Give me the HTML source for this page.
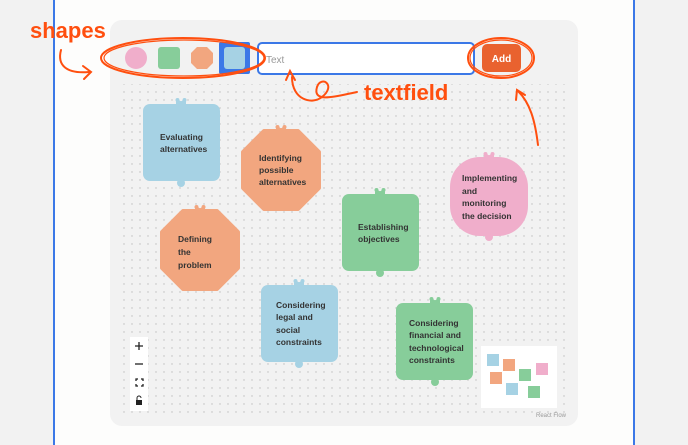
<!DOCTYPE html>
<html><head><meta charset="utf-8"><style>
html,body{margin:0;padding:0;width:688px;height:445px;overflow:hidden;background:#fdfdfc}
svg{display:block}
text{font-family:"Liberation Sans",sans-serif}
</style></head><body>
<svg width="688" height="445" viewBox="0 0 688 445" xmlns="http://www.w3.org/2000/svg">
<defs>
<pattern id="dots" width="8" height="8" patternUnits="userSpaceOnUse"><circle cx="4" cy="4" r="0.7" fill="#bdbdbd"/></pattern>
<g id="ear"><rect x="-5" y="-2" width="10" height="6" rx="2"/><circle cx="-3.5" cy="-2" r="2"/><circle cx="3.5" cy="-2" r="2"/><circle cx="0" cy="-2.5" r="1.6" fill="#f2f2f2"/></g>
</defs>
<rect x="0" y="0" width="53" height="445" fill="#f2f2f2"/>
<rect x="635" y="0" width="53" height="445" fill="#f2f2f2"/>
<rect x="53" y="0" width="2" height="445" fill="#3b78e7"/>
<rect x="633" y="0" width="2" height="445" fill="#3b78e7"/>
<rect x="110" y="20" width="468" height="406" rx="12" fill="#f2f2f2"/>
<rect x="122" y="84" width="446" height="334" fill="url(#dots)"/>

<!-- toolbar -->
<circle cx="136" cy="58" r="11" fill="#f0aecb"/>
<rect x="158" y="47" width="22" height="22" rx="3" fill="#87cd9a"/>
<polygon points="197,47 207,47 213,53 213,63 207,69 197,69 191,63 191,53" fill="#f2a67f"/>
<rect x="219" y="42" width="31" height="32" rx="2" fill="#3b78e7"/>
<rect x="224" y="47" width="21" height="22" rx="3" fill="#a6d2e4"/>
<rect x="258" y="43" width="216" height="31" rx="4" fill="#fff" stroke="#3b78e7" stroke-width="2"/>
<text x="266" y="63" font-size="10" fill="#999">Text</text>
<rect x="482" y="44" width="39" height="28" rx="5" fill="#e9622f"/>
<text x="501.5" y="62" font-size="10" fill="#fff" text-anchor="middle" font-weight="bold">Add</text>

<!-- nodes -->
<g font-size="8.5" font-weight="bold" fill="#333">
<use href="#ear" x="181" y="102" fill="#a6d2e4"/>
<rect x="143" y="104" width="77" height="77" rx="7" fill="#a6d2e4"/>
<circle cx="181" cy="183" r="4" fill="#a6d2e4"/>
<text x="160" y="140">Evaluating</text><text x="160" y="152">alternatives</text>

<use href="#ear" x="281" y="129" fill="#f2a67f"/>
<circle cx="281" cy="207" r="4" fill="#f2a67f"/>
<polygon points="264,131 298,131 319,152 319,188 298,209 264,209 243,188 243,152" fill="#f2a67f" stroke="#f2a67f" stroke-width="4" stroke-linejoin="round"/>
<text x="259" y="161">Identifying</text><text x="259" y="173">possible</text><text x="259" y="185">alternatives</text>

<use href="#ear" x="200" y="209" fill="#f2a67f"/>
<circle cx="200" cy="287" r="4" fill="#f2a67f"/>
<polygon points="183,211 217,211 238,232 238,268 217,289 183,289 162,268 162,232" fill="#f2a67f" stroke="#f2a67f" stroke-width="4" stroke-linejoin="round"/>
<text x="178" y="242">Defining</text><text x="178" y="255">the</text><text x="178" y="268">problem</text>

<use href="#ear" x="380" y="192" fill="#87cd9a"/>
<rect x="342" y="194" width="77" height="77" rx="7" fill="#87cd9a"/>
<circle cx="380" cy="273" r="4" fill="#87cd9a"/>
<text x="358" y="230">Establishing</text><text x="358" y="242">objectives</text>

<use href="#ear" x="489" y="156" fill="#f0aecb"/>
<rect x="450" y="157" width="78" height="79" rx="30" fill="#f0aecb"/>
<circle cx="489" cy="237" r="4" fill="#f0aecb"/>
<text x="462" y="181">Implementing</text><text x="462" y="194">and</text><text x="462" y="206">monitoring</text><text x="462" y="219">the decision</text>

<use href="#ear" x="299" y="283" fill="#a6d2e4"/>
<rect x="261" y="285" width="77" height="77" rx="7" fill="#a6d2e4"/>
<circle cx="299" cy="364" r="4" fill="#a6d2e4"/>
<text x="276" y="308">Considering</text><text x="276" y="320">legal and</text><text x="276" y="333">social</text><text x="276" y="345">constraints</text>

<use href="#ear" x="435" y="301" fill="#87cd9a"/>
<rect x="396" y="303" width="77" height="77" rx="7" fill="#87cd9a"/>
<circle cx="435" cy="382" r="4" fill="#87cd9a"/>
<text x="409" y="326">Considering</text><text x="409" y="338">financial and</text><text x="409" y="351">technological</text><text x="409" y="363">constraints</text>
</g>

<!-- controls -->
<rect x="130" y="337" width="18" height="74" fill="#fff"/>
<g stroke="#222" stroke-width="1.3" fill="none">
<path d="M135,346 h8 M139,342 v8"/>
<path d="M135,364 h8"/>
<path d="M136,381 v-2 h2 M141,379 h2 v2 M143,384 v2 h-2 M138,386 h-2 v-2"/>
</g>
<rect x="136" y="400" width="6" height="5" fill="#222"/>
<path d="M137,400 v-2 a2,2 0 0 1 4,0" stroke="#222" fill="none" stroke-width="1"/>

<!-- minimap -->
<rect x="481" y="346" width="76" height="62" fill="#fff"/>
<rect x="487" y="354" width="12" height="12" fill="#a6d2e4"/>
<rect x="503" y="359" width="12" height="12" fill="#f2a67f"/>
<rect x="490" y="372" width="12" height="12" fill="#f2a67f"/>
<rect x="519" y="369" width="12" height="12" fill="#87cd9a"/>
<rect x="536" y="363" width="12" height="12" fill="#f0aecb"/>
<rect x="506" y="383" width="12" height="12" fill="#a6d2e4"/>
<rect x="528" y="386" width="12" height="12" fill="#87cd9a"/>
<text x="536" y="417" font-size="6" fill="#999">React Flow</text>

<!-- annotations -->
<g fill="none" stroke="#ff4f0f" stroke-width="2" stroke-linecap="round">
<ellipse cx="183" cy="58" rx="82" ry="20"/>
<ellipse cx="184" cy="58" rx="80" ry="18" stroke-width="1.2"/>
<path d="M61,50 c-4,15 5,24 28,22"/>
<path d="M83,66 l8,6 l-7,7"/>
<ellipse cx="501" cy="58" rx="33" ry="20"/>
<ellipse cx="501" cy="58" rx="31" ry="18" stroke-width="1.2"/>
<path d="M538,145 c-3,-25 -8,-42 -20,-54"/>
<path d="M516,100 l1,-10 l8,5"/>
<path d="M357,92 c-20,4 -45,12 -40,-5 c4,-12 20,-2 5,10 c-10,8 -30,3 -30,-20"/>
<path d="M286,80 l4,-9 l5,9"/>
</g>
<text x="30" y="38" font-size="22" font-weight="bold" fill="#ff4f0f">shapes</text>
<text x="364" y="100" font-size="22" font-weight="bold" fill="#ff4f0f">textfield</text>
</svg>
</body></html>
